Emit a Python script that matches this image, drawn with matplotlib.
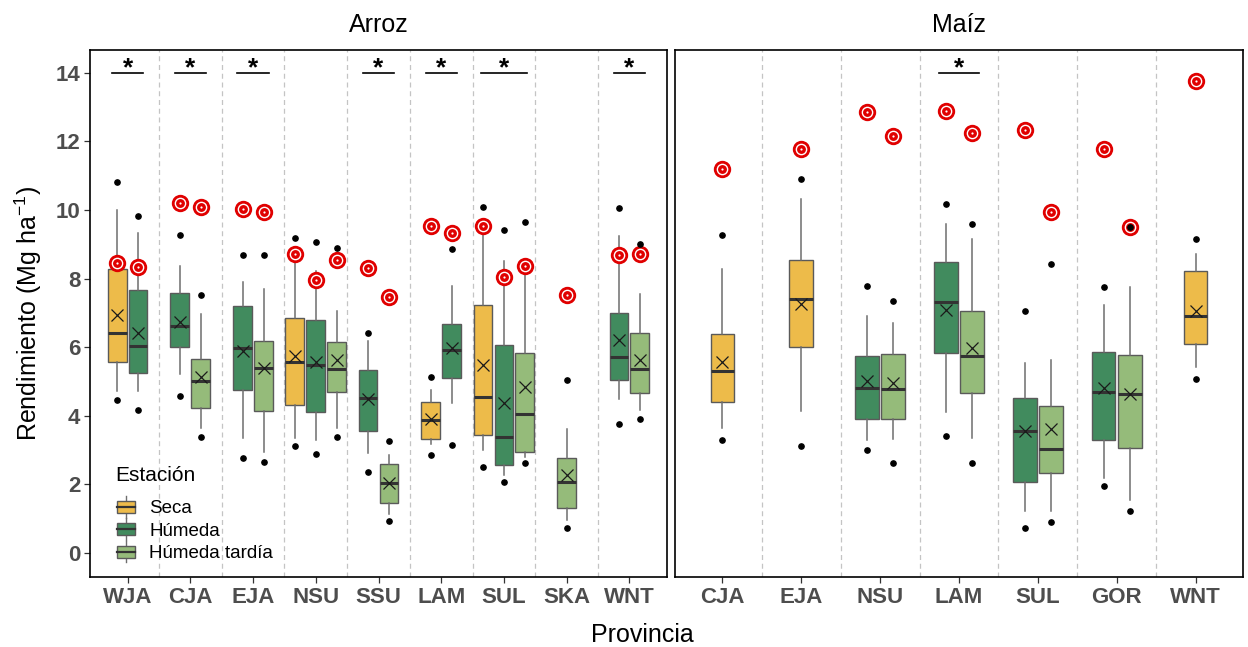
import numpy as np
import matplotlib
matplotlib.use('Agg')
import matplotlib.pyplot as plt
from matplotlib.legend_handler import HandlerBase
from matplotlib.patches import Rectangle, Patch
from matplotlib.lines import Line2D

plt.rcParams['font.family'] = ['Liberation Sans', 'DejaVu Sans']
plt.rcParams['mathtext.default'] = 'regular'

estaciones = ['Seca', 'Húmeda', 'Húmeda tardía']
colores = ['#EDBB4A', '#418B5E', '#95BB7A']

# ---- Arroz ----
arroz_orden = ['WJA', 'CJA', 'EJA', 'NSU', 'SSU', 'LAM', 'SUL', 'SKA', 'WNT']
arroz_prov = ['WJA', 'WJA', 'CJA', 'CJA', 'EJA', 'EJA', 'NSU', 'NSU', 'NSU', 'SSU',
              'SSU', 'LAM', 'LAM', 'SUL', 'SUL', 'SUL', 'SKA', 'WNT', 'WNT']
arroz_est = ['Seca', 'Húmeda', 'Húmeda', 'Húmeda tardía', 'Húmeda', 'Húmeda tardía',
             'Seca', 'Húmeda', 'Húmeda tardía', 'Húmeda', 'Húmeda tardía', 'Seca', 'Húmeda',
             'Seca', 'Húmeda', 'Húmeda tardía', 'Húmeda tardía', 'Húmeda', 'Húmeda tardía']
arroz_q1 = [5.56, 5.26, 6.00, 4.22, 4.75, 4.14, 4.32, 4.12, 4.70, 3.56, 1.46, 3.32, 5.09, 3.44, 2.55, 2.94, 1.31, 5.05, 4.66]
arroz_med = [6.40, 6.03, 6.62, 5.02, 5.96, 5.40, 5.58, 5.47, 5.35, 4.51, 2.03, 3.89, 5.92, 4.55, 3.37, 4.04, 2.06, 5.72, 5.35]
arroz_q3 = [8.29, 7.67, 7.57, 5.66, 7.20, 6.19, 6.86, 6.79, 6.14, 5.32, 2.59, 4.39, 6.67, 7.23, 6.05, 5.83, 2.76, 6.98, 6.40]
arroz_min = [4.72, 4.72, 5.21, 3.65, 3.34, 2.94, 3.34, 3.29, 3.65, 2.91, 1.13, 3.17, 4.37, 3.00, 2.26, 2.79, 0.97, 4.50, 4.17]
arroz_max = [10.00, 9.33, 8.35, 6.96, 7.90, 7.69, 8.49, 8.22, 7.05, 6.17, 2.86, 4.74, 7.77, 9.40, 8.51, 8.40, 3.62, 9.25, 7.54]
arroz_media = [6.93, 6.41, 6.73, 5.13, 5.88, 5.40, 5.73, 5.58, 5.63, 4.49, 2.05, 3.90, 5.98, 5.48, 4.37, 4.84, 2.28, 6.20, 5.63]
arroz_out_alto = [10.80, 9.83, 9.27, 7.52, 8.69, 8.69, 9.19, 9.07, 8.90, 6.42, 3.27, 5.12, 8.87, 10.07, 9.40, 9.66, 5.05, 10.06, 9.02]
arroz_out_bajo = [4.47, 4.16, 4.57, 3.39, 2.76, 2.65, 3.12, 2.88, 3.39, 2.37, 0.92, 2.86, 3.15, 2.52, 2.06, 2.61, 0.72, 3.75, 3.91]
arroz_potencial = [8.46, 8.33, 10.20, 10.07, 10.02, 9.93, 8.71, 7.97, 8.54, 8.32, 7.46, 9.54, 9.32, 9.54, 8.04, 8.36, 7.52, 8.68, 8.71]
arroz_signif = ['WJA', 'CJA', 'EJA', 'SSU', 'LAM', 'SUL', 'WNT']

# ---- Maíz ----
maiz_orden = ['CJA', 'EJA', 'NSU', 'LAM', 'SUL', 'GOR', 'WNT']
maiz_prov = ['CJA', 'EJA', 'NSU', 'NSU', 'LAM', 'LAM', 'SUL', 'SUL', 'GOR', 'GOR', 'WNT']
maiz_est = ['Seca', 'Seca', 'Húmeda', 'Húmeda tardía', 'Húmeda', 'Húmeda tardía',
            'Húmeda', 'Húmeda tardía', 'Húmeda', 'Húmeda tardía', 'Seca']
maiz_q1 = [4.41, 6.01, 3.90, 3.90, 5.83, 4.65, 2.07, 2.34, 3.30, 3.05, 6.10]
maiz_med = [5.30, 7.39, 4.80, 4.77, 7.31, 5.75, 3.56, 3.04, 4.70, 4.64, 6.90]
maiz_q3 = [6.38, 8.53, 5.75, 5.79, 8.48, 7.06, 4.52, 4.27, 5.85, 5.77, 8.21]
maiz_min = [3.65, 4.15, 3.30, 3.32, 4.10, 3.34, 1.21, 1.23, 2.19, 1.53, 5.43]
maiz_max = [8.29, 10.33, 6.92, 6.70, 9.60, 9.14, 5.53, 5.63, 7.22, 7.74, 8.72]
maiz_media = [5.58, 7.27, 5.00, 4.95, 7.09, 5.96, 3.56, 3.60, 4.82, 4.64, 7.04]
maiz_out_alto = [9.28, 10.90, 7.79, 7.33, 10.17, 9.60, 7.05, 8.42, 7.74, 9.51, 9.15]
maiz_out_bajo = [3.29, 3.11, 3.00, 2.61, 3.40, 2.61, 0.72, 0.90, 1.96, 1.21, 5.07]
maiz_potencial = [11.19, 11.77, 12.84, 12.16, 12.88, 12.24, 12.34, 9.93, 11.76, 9.51, 13.75]
maiz_signif = ['LAM']


def posiciones(orden, provs, ests):
    # cajas esquivadas dentro de cada provincia, centradas en el tick
    pos = []
    for p, e in zip(provs, ests):
        grupo = [ee for pp, ee in zip(provs, ests) if pp == p]
        k, n = grupo.index(e), len(grupo)
        pos.append(orden.index(p) + 1 + (k - (n - 1) / 2) / 3)
    return pos


def panel(ax, titulo, orden, provs, ests, q1, med, q3, wmin, wmax, media,
          out_alto, out_bajo, potencial, signif):
    pos = posiciones(orden, provs, ests)
    stats = []
    for i in range(len(provs)):
        stats.append(dict(q1=q1[i], med=med[i], q3=q3[i], whislo=wmin[i], whishi=wmax[i],
                          mean=media[i], fliers=[out_bajo[i], out_alto[i]]))
    bp = ax.bxp(stats, positions=pos, widths=0.3, patch_artist=True, showmeans=True,
                showcaps=False,
                boxprops=dict(edgecolor='#5A5A5A', linewidth=1.0),
                medianprops=dict(color='#333333', linewidth=2.2),
                whiskerprops=dict(color='#6E6E6E', linewidth=1.1),
                meanprops=dict(marker='x', markeredgecolor='#1A1A1A', markersize=9,
                               markeredgewidth=0.9),
                flierprops=dict(marker='o', markerfacecolor='black', markeredgecolor='black',
                                markersize=3.8),
                zorder=2)
    for caja, e in zip(bp['boxes'], ests):
        caja.set_facecolor(colores[estaciones.index(e)])
    for f in bp['fliers']:
        f.set_zorder(5)

    # rendimiento potencial (diana roja)
    ax.plot(pos, potencial, 'o', color='#E00000', markersize=12.5, markeredgewidth=0, zorder=4)
    ax.plot(pos, potencial, 'o', markerfacecolor='none', markeredgecolor='white',
            markersize=7.4, markeredgewidth=1.0, zorder=4)
    ax.plot(pos, potencial, 'o', color='white', markersize=1.6, markeredgewidth=0, zorder=4)

    # separadores entre provincias
    for x in np.arange(1.5, len(orden), 1):
        ax.axvline(x, color='#C4C4C4', lw=0.9, ls=(0, (4, 3)), zorder=0)

    # diferencias significativas
    for p in signif:
        n = provs.count(p)
        media_ancho = 0.25 if n == 2 else 0.37
        c = orden.index(p) + 1
        ax.plot([c - media_ancho, c + media_ancho], [14, 14], color='black', lw=1.2)
        ax.text(c, 13.93, '*', ha='center', va='baseline', fontsize=19, fontweight='bold')

    ax.set_xlim(0.4, len(orden) + 0.6)
    ax.set_ylim(-0.7, 14.66)
    ax.set_xticks(range(1, len(orden) + 1))
    ax.set_xticklabels(orden)
    ax.set_yticks(range(0, 15, 2))
    ax.tick_params(axis='both', length=4, width=0.9, color='#333333', labelsize=16,
                   labelcolor='#4D4D4D', pad=3)
    for lab in ax.get_xticklabels() + ax.get_yticklabels():
        lab.set_fontweight('bold')
    for s in ax.spines.values():
        s.set_linewidth(1.2)
    ax.set_title(titulo, fontsize=18, pad=13)


class HandlerCaja(HandlerBase):
    def create_artists(self, legend, orig_handle, xdescent, ydescent, width, height,
                       fontsize, trans):
        x0, y0 = -xdescent, -ydescent
        cx, cy = x0 + width / 2, y0 + height / 2
        rect = Rectangle((x0, y0), width, height, facecolor=orig_handle.get_facecolor(),
                         edgecolor='#5A5A5A', lw=1.0, transform=trans)
        med = Line2D([x0, x0 + width], [cy, cy], color='#333333', lw=1.6, transform=trans)
        arriba = Line2D([cx, cx], [y0 + height, y0 + height + 3.5], color='#6E6E6E',
                        lw=1.0, transform=trans)
        abajo = Line2D([cx, cx], [y0 - 3.5, y0], color='#6E6E6E', lw=1.0, transform=trans)
        return [arriba, abajo, rect, med]


fig = plt.figure(figsize=(12.48, 6.47), dpi=100)
ax1 = fig.add_axes([90 / 1248, 70 / 647, 577 / 1248, 527 / 647])
ax2 = fig.add_axes([675 / 1248, 70 / 647, 568 / 1248, 527 / 647], sharey=ax1)

panel(ax1, 'Arroz', arroz_orden, arroz_prov, arroz_est, arroz_q1, arroz_med, arroz_q3,
      arroz_min, arroz_max, arroz_media, arroz_out_alto, arroz_out_bajo, arroz_potencial,
      arroz_signif)
panel(ax2, 'Maíz', maiz_orden, maiz_prov, maiz_est, maiz_q1, maiz_med, maiz_q3,
      maiz_min, maiz_max, maiz_media, maiz_out_alto, maiz_out_bajo, maiz_potencial,
      maiz_signif)
ax2.tick_params(axis='y', left=False, labelleft=False)

ax1.set_ylabel('Rendimiento (Mg ha$^{-1}$)', fontsize=18, labelpad=8)
fig.text(642 / 1248, 1 - 635 / 647, 'Provincia', fontsize=18, ha='center', va='center')

# leyenda: título aparte para dejar más aire sobre las claves
handles = [Patch(facecolor=c, label=e) for c, e in zip(colores, estaciones)]
leg = ax1.legend(handles=handles, loc='lower left',
                 bbox_to_anchor=(0.047, 0.028), frameon=False, fontsize=13.5,
                 handler_map={Patch: HandlerCaja()},
                 handlelength=0.96, handleheight=0.6, labelspacing=0.29,
                 handletextpad=0.75, borderpad=0, borderaxespad=0)
ax1.text(0.043, 0.1935, 'Estación', transform=ax1.transAxes, fontsize=15,
         ha='left', va='center')

fig.savefig('out.png', dpi=100)
